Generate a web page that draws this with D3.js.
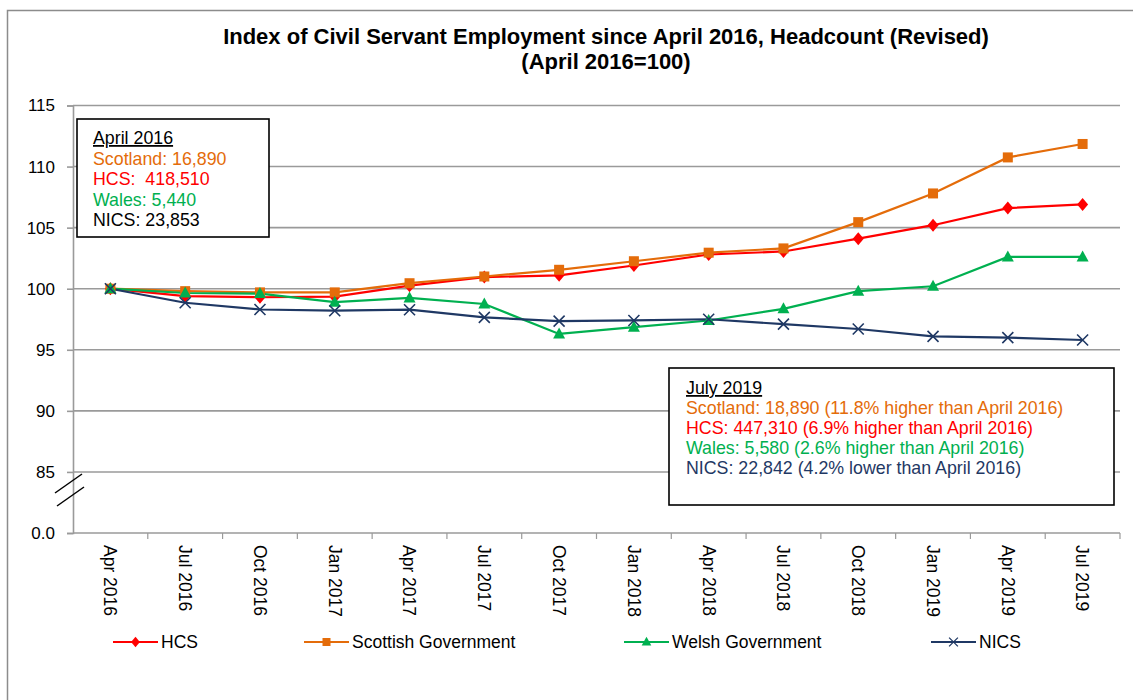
<!DOCTYPE html>
<html>
<head>
<meta charset="utf-8">
<script src="https://cdn.jsdelivr.net/npm/d3@7"></script>
<style>
  body { margin: 0; background: #fff; }
  svg { font-family: "Liberation Sans", Arial, sans-serif; }
  .tickLabel { font-size: 17px; fill: #000; }
  .boxText { font-size: 17.8px; white-space: pre; }
  .legendText { font-size: 17.5px; fill: #000; }
</style>
</head>
<body>
<svg id="chart-svg" width="1133" height="700"></svg>
<script>
////////////////////////////////////////////////////////////////////////////////
// Data (index, April 2016 = 100)
var months = ["Apr 2016", "Jul 2016", "Oct 2016", "Jan 2017", "Apr 2017", "Jul 2017", "Oct 2017",
              "Jan 2018", "Apr 2018", "Jul 2018", "Oct 2018", "Jan 2019", "Apr 2019", "Jul 2019"];
var hcs   = [100, 99.4, 99.3, 99.35, 100.25, 100.95, 101.1, 101.9, 102.8, 103.05, 104.1, 105.2, 106.6, 106.9];
var scot  = [100, 99.8, 99.7, 99.7, 100.45, 101.0, 101.55, 102.25, 102.95, 103.3, 105.45, 107.8, 110.75, 111.85];
var wales = [100, 99.65, 99.6, 98.9, 99.25, 98.75, 96.3, 96.85, 97.4, 98.35, 99.8, 100.2, 102.6, 102.6];
var nics  = [100, 98.85, 98.3, 98.2, 98.28, 97.65, 97.35, 97.4, 97.5, 97.1, 96.7, 96.1, 96.0, 95.8];

var seriesNames = ["HCS", "Scottish Government", "Welsh Government", "NICS"];
var yTicks = [80, 85, 90, 95, 100, 105, 110, 115]; // 80 sits at the broken-axis "0.0"

var boxApril = ["April 2016", "Scotland: 16,890", "HCS:  418,510", "Wales: 5,440", "NICS: 23,853"];
var boxJuly = ["July 2019", "Scotland: 18,890 (11.8% higher than April 2016)",
               "HCS: 447,310 (6.9% higher than April 2016)",
               "Wales: 5,580 (2.6% higher than April 2016)",
               "NICS: 22,842 (4.2% lower than April 2016)"];

////////////////////////////////////////////////////////////////////////////////
const svg = d3.select("#chart-svg");
var margin_left = 73, margin_right = 13, margin_top = 105.5, plot_bottom = 533;
var w = 1133;
var colors = ["#ff0000", "#e46c0a", "#00b050", "#1f3864"];
var gridColor = "#9a9a9a";

var x = d3.scaleBand().domain(months).range([margin_left, w - margin_right]);
var y = d3.scaleLinear().domain([80, 115]).range([plot_bottom, margin_top]);

// outer chart border
svg.append("rect")
   .attr("x", 7.5).attr("y", 10.5).attr("width", 1140).attr("height", 700)
   .attr("fill", "none").attr("stroke", "#8c8c8c").attr("stroke-width", 1.5);

// title
svg.append("text").attr("x", 606).attr("y", 44).attr("text-anchor", "middle")
   .style("font-size", "22px").style("font-weight", "bold")
   .text("Index of Civil Servant Employment since April 2016, Headcount (Revised)");
svg.append("text").attr("x", 606).attr("y", 69).attr("text-anchor", "middle")
   .style("font-size", "22px").style("font-weight", "bold")
   .text("(April 2016=100)");

// gridlines
svg.selectAll(".grid")
   .data(yTicks.filter(function(d) { return d > 80; }))
   .enter()
   .append("line")
   .attr("x1", margin_left).attr("x2", w - margin_right)
   .attr("y1", function(d) { return y(d); }).attr("y2", function(d) { return y(d); })
   .attr("stroke", gridColor).attr("stroke-width", 1.6);

// y axis
var yAxis = d3.axisLeft(y).tickValues(yTicks).tickSize(6).tickPadding(12)
  .tickFormat(function(d) { return d == 80 ? "0.0" : d; });
var gy = svg.append("g").attr("transform", "translate(" + margin_left + ",0)").call(yAxis);
gy.attr("font-family", null).attr("font-size", null);
gy.selectAll("path, line").attr("stroke", gridColor).attr("stroke-width", 1.6);
gy.selectAll("text").attr("class", "tickLabel");

// x axis - ticks at category boundaries
svg.append("line")
   .attr("x1", margin_left).attr("x2", w - margin_right)
   .attr("y1", plot_bottom).attr("y2", plot_bottom)
   .attr("stroke", gridColor).attr("stroke-width", 1.6);
svg.selectAll(".xtick")
   .data(months)
   .enter()
   .append("line")
   .attr("x1", function(d) { return x(d) + x.bandwidth(); })
   .attr("x2", function(d) { return x(d) + x.bandwidth(); })
   .attr("y1", plot_bottom).attr("y2", plot_bottom + 6)
   .attr("stroke", gridColor).attr("stroke-width", 1.2);
svg.selectAll(".xlabel")
   .data(months)
   .enter()
   .append("text")
   .attr("class", "tickLabel")
   .style("font-size", "17.5px")
   .attr("transform", function(d) { return "translate(" + (x(d) + x.bandwidth()/2) + "," + (plot_bottom + 12) + ") rotate(90)"; })
   .attr("dy", "0.35em")
   .text(function(d) { return d; });

// axis break marks
svg.append("line").attr("x1", 55).attr("y1", 493).attr("x2", 82).attr("y2", 474)
   .attr("stroke", "#000").attr("stroke-width", 1.5);
svg.append("line").attr("x1", 57).attr("y1", 506).attr("x2", 84).attr("y2", 487)
   .attr("stroke", "#000").attr("stroke-width", 1.5);

////////////////////////////////////////////////////////////////////////////////
// series lines and markers
var allSeries = [hcs, scot, wales, nics];
var line = d3.line()
  .x(function(d, i) { return x(months[i]) + x.bandwidth()/2; })
  .y(function(d) { return y(d); });

function drawMarker(g, j, cx, cy, k) {
  var m;
  if (j == 0) { m = g.append("path").attr("d", "M0,-6.5L5.5,0L0,6.5L-5.5,0Z"); }
  else if (j == 1) { m = g.append("rect").attr("x", -5).attr("y", -5).attr("width", 10).attr("height", 10); }
  else if (j == 2) { m = g.append("path").attr("d", "M0,-6.5L6,4.5L-6,4.5Z"); }
  else { m = g.append("path").attr("d", "M-5.5,-5.5L5.5,5.5M-5.5,5.5L5.5,-5.5"); }
  m.attr("transform", "translate(" + cx + "," + cy + ") scale(" + (k || 1) + ")")
   .attr("fill", j == 3 ? "none" : colors[j])
   .attr("stroke", colors[j])
   .attr("stroke-width", j == 3 ? 1.6 : 0);
}; // end drawMarker

for (var j = 0; j < 4; j++) {
  svg.append("path")
     .datum(allSeries[j])
     .attr("d", line)
     .attr("fill", "none")
     .attr("stroke", colors[j])
     .attr("stroke-width", 2.2);
};
for (var j = 0; j < 4; j++) {
  var gm = svg.append("g");
  allSeries[j].forEach(function(v, i) {
    drawMarker(gm, j, x(months[i]) + x.bandwidth()/2, y(v));
  });
};

////////////////////////////////////////////////////////////////////////////////
// annotation boxes
function textBox(lines, lineColors, bx, by, bw, bh, tx, ty, lh) {
  svg.append("rect").attr("x", bx).attr("y", by).attr("width", bw).attr("height", bh)
     .attr("fill", "#fff").attr("stroke", "#000").attr("stroke-width", 1.6);
  svg.selectAll(null)
     .data(lines)
     .enter()
     .append("text")
     .attr("class", "boxText")
     .attr("x", tx)
     .attr("y", function(d, i) { return ty + i*lh; })
     .attr("fill", function(d, i) { return lineColors[i]; })
     .style("text-decoration", function(d, i) { return i == 0 ? "underline" : null; })
     .text(function(d) { return d; });
}; // end textBox

textBox(boxApril, ["#000", colors[1], colors[0], colors[2], "#000"], 77, 119, 192, 118, 93, 144, 20.5);
textBox(boxJuly, ["#000", colors[1], colors[0], colors[2], colors[3]], 669, 368, 445, 137, 686, 394, 20);

////////////////////////////////////////////////////////////////////////////////
// legend
var legendX = [113, 304, 624, 931];
for (var j = 0; j < 4; j++) {
  var gl = svg.append("g");
  gl.append("line").attr("x1", legendX[j]).attr("x2", legendX[j] + 45)
    .attr("y1", 642).attr("y2", 642)
    .attr("stroke", colors[j]).attr("stroke-width", 2.2);
  drawMarker(gl, j, legendX[j] + 22.5, 642, 0.8);
  gl.append("text").attr("class", "legendText")
    .attr("x", legendX[j] + 48).attr("y", 642).attr("dy", "0.36em")
    .text(seriesNames[j]);
};
</script>
</body>
</html>
